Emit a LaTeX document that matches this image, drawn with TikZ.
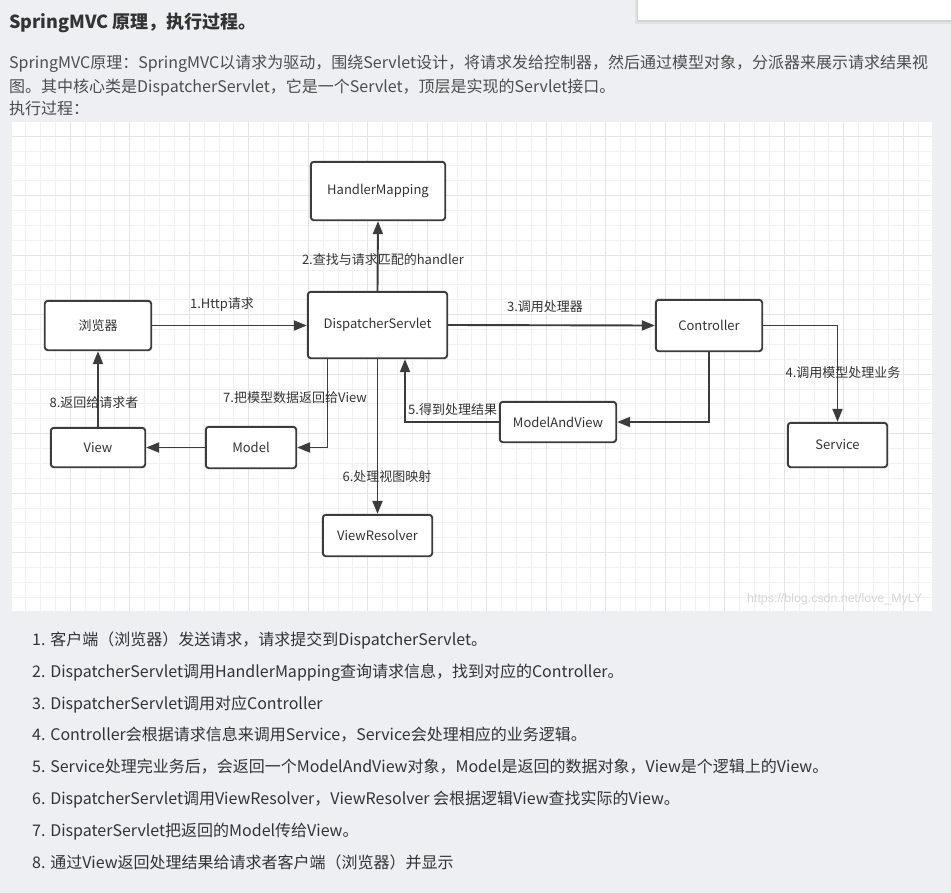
\documentclass[tikz,border=0pt]{standalone}
\usepackage{fontspec}
\setmainfont{Noto Sans CJK SC}
\newfontfamily\urlfont{Liberation Sans}
\usetikzlibrary{arrows.meta}
\definecolor{pagebg}{RGB}{238,239,243}
\definecolor{gridminor}{RGB}{241,241,241}
\definecolor{gridmajor}{RGB}{229,229,229}
\definecolor{boxline}{RGB}{60,60,60}
\definecolor{txt}{RGB}{51,51,51}
\definecolor{paratxt}{RGB}{77,77,77}
\definecolor{wmgray}{RGB}{214,214,214}

\begin{document}
\begin{tikzpicture}[x=1bp,y=1bp]
        \tikzstyle{every node}+=[inner sep=0pt, text=txt]
        \tikzstyle{box}=[draw=boxline, line width=1.9bp, rounded corners=3bp, fill=white, font=\fontsize{13bp}{15bp}\selectfont]
        \tikzstyle{flow}=[draw=boxline, line width=1.9bp, -{Triangle[length=13bp,width=10bp]}]
        \tikzstyle{lbl}=[font=\fontsize{13bp}{15bp}\selectfont]
        \tikzstyle{para}=[anchor=base west, font=\fontsize{16bp}{20bp}\selectfont]
        \useasboundingbox (0,0) rectangle (951,-893);
        \fill [pagebg] (0,0) rectangle (951,-893);
        \fill [black, opacity=0.05] (635,0) rectangle (951,-24);
        \fill [black, opacity=0.07] (637,0) rectangle (951,-21.5);
        \fill [white] (638,0) rectangle (951,-20);
        \node [anchor=base west, font=\bfseries\fontsize{18bp}{22bp}\selectfont] (title) at (9,-28) {SpringMVC 原理，执行过程。};
        \node [para, text=paratxt] (intro1) at (9,-68) {SpringMVC原理：SpringMVC以请求为驱动，围绕Servlet设计，将请求发给控制器，然后通过模型对象，分派器来展示请求结果视};
        \node [para, text=paratxt] (intro2) at (9,-92) {图。其中核心类是DispatcherServlet，它是一个Servlet，顶层是实现的Servlet接口。};
        \node [para, text=paratxt] (intro3) at (9,-114) {执行过程：};
        \fill [white] (12,-122) rectangle (932,-611);
        \begin{scope}
        \clip (12,-122) rectangle (932,-611);
        \foreach \i in {0,...,62} \draw [gridminor, line width=1bp] (10.8+14.875*\i,-122) -- ++(0,-489);
        \foreach \j in {-1,...,32} \draw [gridminor, line width=1bp] (12,-136.2-14.875*\j) -- ++(920,0);
        \foreach \i in {0,...,15} \draw [gridmajor, line width=1bp] (10.8+59.5*\i,-122) -- ++(0,-489);
        \foreach \j in {-1,...,8} \draw [gridmajor, line width=1bp] (12,-136.2-59.5*\j) -- ++(920,0);
        \end{scope}
        \node [anchor=base west, font=\urlfont\fontsize{12.4bp}{14bp}\selectfont, text=wmgray] (wmark) at (747,-602) {https://blog.csdn.net/love\_MyLY};
        \node [box, minimum width=134.4bp, minimum height=58.4bp] (hmap) at (378,-191) {HandlerMapping};
        \node [box, minimum width=106.4bp, minimum height=49.4bp] (browser) at (98,-325.5) {浏览器};
        \node [box, minimum width=139.4bp, minimum height=66.4bp] (dispatcher) at (377.5,-325) {DispatcherServlet};
        \node [box, minimum width=106.4bp, minimum height=51.4bp] (ctrl) at (709,-325.5) {Controller};
        \node [box, minimum width=94.4bp, minimum height=39.4bp] (view) at (98,-447.5) {View};
        \node [box, minimum width=90.4bp, minimum height=41.4bp] (model) at (251,-447.5) {Model};
        \node [box, minimum width=109.4bp, minimum height=41.4bp] (vresolver) at (377.5,-535.5) {ViewResolver};
        \node [box, minimum width=116.4bp, minimum height=40.4bp] (mav) at (558,-422) {ModelAndView};
        \node [box, minimum width=99.4bp, minimum height=44.4bp] (service) at (837.5,-445) {Service};
        \draw [flow] (browser.east) -- (browser.east -| dispatcher.west);
        \draw [flow] (dispatcher.north) -- (hmap.south);
        \draw [flow] (dispatcher.east) -- (ctrl.west);
        \draw [flow] (ctrl.east) -| (service.north);
        \draw [flow] (ctrl.south) |- (mav.east);
        \draw [flow] (mav.west) -| ([xshift=27.5bp]dispatcher.south);
        \draw [flow] ([xshift=-50bp]dispatcher.south) |- (model.east);
        \draw [flow] (dispatcher.south) -- (vresolver.north);
        \draw [flow] (model.west) -- (view.east);
        \draw [flow] (view.north) -- (browser.south);
        \node [lbl] (lhttp) at (222,-305) {1.Http请求};
        \node [lbl] (lfind) at (383,-260) {2.查找与请求匹配的handler};
        \node [lbl] (lcall) at (545,-307) {3.调用处理器};
        \node [lbl] (lserv) at (843,-373) {4.调用模型处理业务};
        \node [lbl, anchor=west] (lresult) at (408,-410) {5.得到处理结果};
        \node [lbl] (lresolve) at (387,-477) {6.处理视图映射};
        \node [lbl] (lmodel) at (295,-398) {7.把模型数据返回给View};
        \node [lbl] (lback) at (94,-403) {8.返回给请求者};
        \node [para] (step1) at (32,-645) {1. 客户端（浏览器）发送请求，请求提交到DispatcherServlet。};
        \node [para] (step2) at (32,-677) {2. DispatcherServlet调用HandlerMapping查询请求信息，找到对应的Controller。};
        \node [para] (step3) at (32,-709) {3. DispatcherServlet调用对应Controller};
        \node [para] (step4) at (32,-740) {4. Controller会根据请求信息来调用Service，Service会处理相应的业务逻辑。};
        \node [para] (step5) at (32,-772) {5. Service处理完业务后，会返回一个ModelAndView对象，Model是返回的数据对象，View是个逻辑上的View。};
        \node [para] (step6) at (32,-804) {6. DispatcherServlet调用ViewResolver，ViewResolver 会根据逻辑View查找实际的View。};
        \node [para] (step7) at (32,-836) {7. DispaterServlet把返回的Model传给View。};
        \node [para] (step8) at (32,-868) {8. 通过View返回处理结果给请求者客户端（浏览器）并显示};
    \end{tikzpicture}
\end{document}
